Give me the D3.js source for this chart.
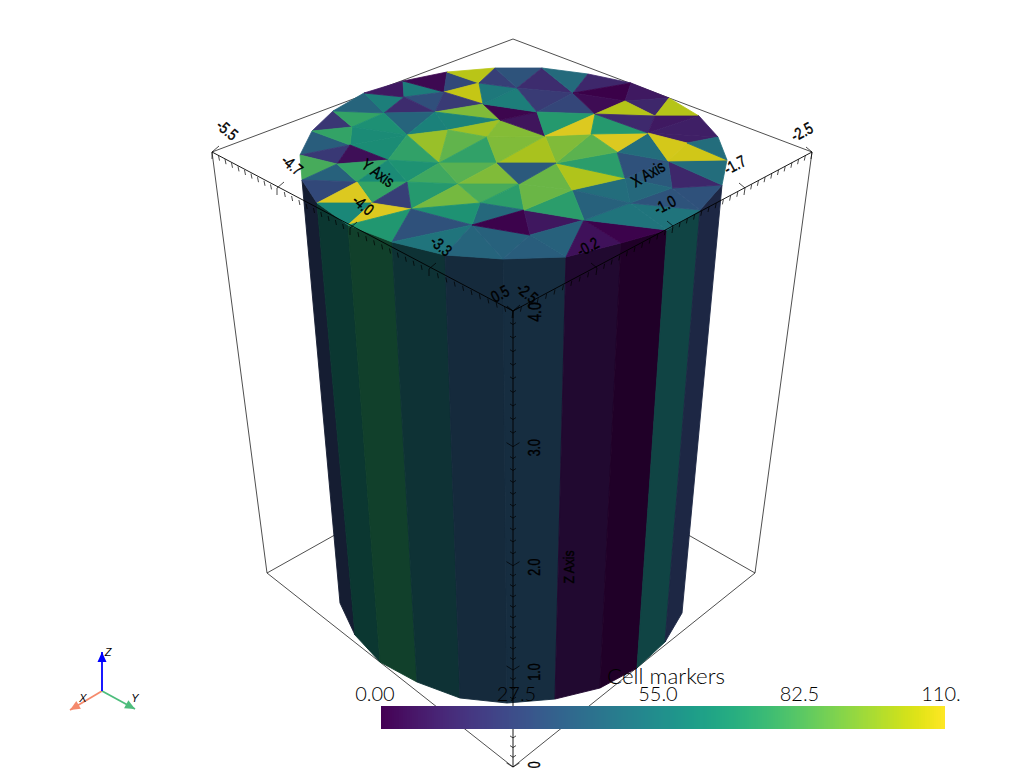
<!DOCTYPE html>
<html><head><meta charset="utf-8">
<script src="https://cdn.jsdelivr.net/npm/d3@7"></script>
<style>html,body{margin:0;padding:0;background:#fff;overflow:hidden}svg{display:block}</style>
</head><body><svg id="c" width="1024" height="768"></svg>
<script>
// ---------- data ----------
const capVertexNames = ["R0","R1","R2","R3","R4","R5","R6","R7","R8","R9","R10","R11","R12","R13","R14","R15","R16","R17","R18","R19","R20","R21","R22","R23","R24",
 "A","B","C","D","E","F","G","H","I","J","K","L","M","N","O","P","Q","S","T","U","V","W","X","Y","Z","a","b","c","d","e","f","g","h","i","j","k","l","m","n","o","p","q","t","w"];
const capVertexU = [1,13,34,65,104,148,196,243,289,332,370,400,419,428,423,401,368,322,267,204,146,93,49,18,3,
 105,85,145,136,180,184,218,201,238,246,274,296,326,356,349,292,318,257,369,53,108,149,188,51,89,140,198,58,108,159,220,273,326,373,331,73,112,181,225,285,173,231,38,388];
const capVertexV = [87,63,43,25,13,4,0,0,6,15,30,48,69,92,117,142,162,175,189,191,187,174,157,135,112,
 29,45,24,44,15,36,20,52,44,68,25,46,33,48,65,66,84,95,93,59,67,62,69,77,92,95,95,114,114,116,116,122,110,120,135,135,141,135,142,152,157,167,96,75];
const capTriangles = ["R1 R2 U","R2 B U","R2 R3 B","R3 A B","R3 R4 A","R4 C A","R4 R5 C","R5 E C","R5 R6 E","A C D","A D B","C E F","C F D","D F H","B D V","U B V","U V Y","Y V Z","D H W","V D W","W H X","V W a","W X a","X b a","V a Z",
 "R0 R1 Y","R1 U Y","R0 Y t","Y Z t","R0 t R24","R24 t c","t Z c","Z d c","Z a d","a e d","a b e","b f e","c d k","d e l","e m l","e f m","f n m","m n p","l m p","d l k","R24 c R23","R23 c k","R23 k R22","R22 k l","R22 l R21","R21 l p","R21 p R20","R20 p R19","p q R19","q R18 R19","n q p","n o q","q o R18","o R17 R18","o R16 R17","o j R16","j R15 R16","j i R15","i R14 R15","T R14 i","T R13 R14","h T i","h i j","g h j","g j o","n g o","f g n","f S g","S h g","S Q h","Q T h","Q O T","P O Q","P Q S","J P S","J S b","X J b","X H J","H I J","F H I","F G I","E G F","E R6 G","R6 R7 G","R7 K G","G K I","K L I","I L J","L P J","L O P","R7 R8 K","R8 R9 K","R9 M K","K M L","R9 R10 M","M R10 N","R10 R11 N","M N L","L N O","N R11 O","O R11 R12","O R12 w","O w T","w R13 T","R12 R13 w","b S f"];
const capValues = [20,75,42,55,9,54,3,28,103,31,16,105,22,92,42,65,62,63,58,57,98,97,86,74,74,
 38,75,21,5,80,40,75,62,66,78,84,92,75,70,90,80,72,44,66,24,28,110,60,110,68,32,50,42,40,38,1,8,40,6,1,50,50,33,32,14,46,36,44,46,40,72,88,88,101,72,32,46,110,85,92,100,92,93,7,2,55,52,24,33,16,22,27,70,110,70,45,14,0,4,9,14,102,102,15,9,11,11,108,107,46,36];
const sideRimTop = ["R24","R23","R22","R21","R20","R19","R18","R17","R16","R15","R14"];
const sideRimBottomU = [41,56,81,118,161,208,256,301,338,366,383];
const sideRimBottomV = [535,567,594,614,630,635,631,620,600,574,545];
const sideValues = [27,60,72,50,35,35,6,0,53,27];
const xTickValues = [0.5,-0.25,-1,-1.75,-2.5];
const xTickLabels = ["0.5","-0.2","-1.0","-1.7","-2.5"];
const yTickValues = [-5.5,-4.75,-4,-3.25,-2.5];
const yTickLabels = ["-5.5","-4.7","-4.0","-3.3","-2.5"];
const zTickValues = [0,1,2,3,4];
const zTickLabels = ["0.0","1.0","2.0","3.0","4.0"];
const colorbarTicks = [0,27.5,55,82.5,110];
const colorbarLabels = ["0.00","27.5","55.0","82.5","110."];
const colorbarTitle = "Cell markers";
const axisNames = ["X Axis","Y Axis","Z Axis"];

// ---------- scales and layout ----------
const svg = d3.select("#c");
const px = d3.scaleLinear().domain([0,428]).range([299,727]);
const py = d3.scaleLinear().domain([0,192]).range([68,260]);
const V = new Map(capVertexNames.map((n,i)=>[n,[px(capVertexU[i]),py(capVertexV[i])]]));
const viridis = d3.scaleSequential(d3.interpolateViridis).domain([0,110]);
const shaded = (v,f)=>{const c=d3.rgb(viridis(v));return d3.rgb(c.r*f,c.g*f,c.b*f).formatRgb();};
const capShade = 0.87;
const sideShade = d3.scaleLinear().domain([300,400,500,730]).range([0.36,0.35,0.44,0.5]);
const line = d3.line();
const corner = {L:[212,152],B:[513,39],R:[812,152],F:[513,311],Lb:[267,573],Bb:[513,435],Rb:[755,573],Fb:[513,767]};

// axes as piecewise scales along the box edges
const xAxisX = d3.scaleLinear().domain(xTickValues).range([513,597,673,745,812]);
const xAxisY = d3.scaleLinear().domain(xTickValues).range([311,268,226,188,152]);
const yAxisX = d3.scaleLinear().domain(yTickValues).range([212,277,350,429,513]);
const yAxisY = d3.scaleLinear().domain(yTickValues).range([152,188,228,269,311]);
const zAxisY = d3.scaleLinear().domain(zTickValues).range([767,670,565.7,446.7,311]);
const minor = vals => d3.merge(vals.slice(0,-1).map((v,i)=>d3.range(0,10).map(k=>v+(vals[i+1]-v)*k/10))).concat(vals[vals.length-1]);

// back edges of the box
const back = svg.append("g").attr("fill","none").attr("stroke","#222").attr("stroke-width",0.8);
back.selectAll("path").data([["L","B"],["B","R"],["L","Lb"],["R","Rb"],["Lb","Bb"],["Rb","Bb"],["Lb","Fb"],["Rb","Fb"]])
  .join("path").attr("d",d=>line([corner[d[0]],corner[d[1]]]));

// cylinder sides
const bottoms = sideRimBottomU.map((u,i)=>[px(u),py(sideRimBottomV[i])]);
const strips = sideValues.map((v,i)=>({v,pts:[V.get(sideRimTop[i]),V.get(sideRimTop[i+1]),bottoms[i+1],bottoms[i]]}));
const stripColor = d=>shaded(d.v,sideShade(d3.mean(d.pts,p=>p[0])));
svg.append("g").selectAll("path").data(strips).join("path")
  .attr("d",d=>line(d.pts)+"Z")
  .attr("fill",stripColor).attr("stroke",stripColor).attr("stroke-width",0.9);

// cap mesh
svg.append("g").selectAll("path").data(capTriangles.map((t,i)=>({pts:t.split(" ").map(n=>V.get(n)),v:capValues[i]}))).join("path")
  .attr("d",d=>line(d.pts)+"Z")
  .attr("fill",d=>shaded(d.v,capShade)).attr("stroke",d=>shaded(d.v,capShade)).attr("stroke-width",0.8).attr("stroke-linejoin","round");

// front axes
const front = svg.append("g").attr("stroke","#000").attr("stroke-width",0.9).attr("fill","none");
const seg=(g,a,b,w)=>g.append("path").attr("d",line([a,b])).attr("stroke-width",w||0.9);
seg(front,corner.L,corner.F);seg(front,corner.F,corner.R);seg(front,corner.F,corner.Fb);
const ticks = (vals,pos,minorLegs,majorLegs)=>{
  minor(vals).forEach(v=>{
    const p=pos(v), isMajor=vals.some(m=>Math.abs(m-v)<1e-6);
    (isMajor?majorLegs:minorLegs).forEach(l=>seg(front,p,[p[0]+l[0],p[1]+l[1]],0.7));
  });
};
ticks(yTickValues,v=>[yAxisX(v),yAxisY(v)],[[1,5]],[[7,-6],[0,7]]);
ticks(xTickValues,v=>[xAxisX(v),xAxisY(v)],[[-1,5]],[[-6,-5],[-1,7]]);
ticks(zTickValues,v=>[513,zAxisY(v)],[[-3,-2],[3,-2]],[[-6.5,-4],[6.5,-4]]);

// axis text
const lab = (s,x,y,r,size)=>svg.append("text").text(s).attr("text-anchor","middle").attr("dominant-baseline","central")
  .attr("transform",`translate(${x},${y}) rotate(${r}) scale(0.78,1)`).attr("font-family","'Liberation Sans',sans-serif").attr("font-size",size).attr("fill","#000").attr("stroke","#000").attr("stroke-width",0.4);
const yOff=[[15,-22],[15,-23],[13,-23],[12,-23],[14,-18]];
yTickValues.forEach((v,i)=>lab(yTickLabels[i],yAxisX(v)+yOff[i][0],yAxisY(v)+yOff[i][1],40,16.5));
const xOff=[[-13,-17],[-9,-21],[-8,-21],[-10,-23],[-10,-20]];
xTickValues.forEach((v,i)=>lab(xTickLabels[i],xAxisX(v)+xOff[i][0],xAxisY(v)+xOff[i][1],-28,16.5));
const zOff=[3,2,1.5,1,1];
zTickValues.forEach((v,i)=>lab(zTickLabels[i],534.5,zAxisY(v)+zOff[i],-90,i==4?18:16));
lab(axisNames[0],648,174,-30,16.5);
lab(axisNames[1],378,173,36,16.5);
lab(axisNames[2],568,567,-90,15.5);

// scalar bar
const barX=d3.scaleBand().domain(d3.range(256)).range([381,945]);
const barPos=d3.scaleLinear().domain([0,110]).range([375,941]);
svg.append("g").attr("shape-rendering","crispEdges").selectAll("rect").data(d3.range(256)).join("rect")
  .attr("x",d=>barX(d)).attr("y",706).attr("width",d=>d==255?barX.bandwidth():barX.bandwidth()+1).attr("height",23)
  .attr("fill",d=>d3.interpolateViridis(d/255));
const barFont="Lato,'Open Sans',sans-serif";
svg.append("g").selectAll("text").data(colorbarTicks).join("text")
  .attr("x",d=>barPos(d)).attr("y",701).attr("text-anchor","middle").text((d,i)=>colorbarLabels[i])
  .attr("font-family",barFont).attr("font-weight",300).attr("font-size",20).attr("fill","#000");
svg.append("text").attr("x",607).attr("y",684).attr("textLength",118).attr("lengthAdjust","spacingAndGlyphs").text(colorbarTitle)
  .attr("font-family",barFont).attr("font-weight",300).attr("font-size",21).attr("fill","#000");

// orientation marker
const origin=[102,691];
const markerTips=[{n:"X",tip:[70,710],c:"#f58a6c",lab:[83,698]},{n:"Y",tip:[135,709],c:"#4dbd7c",lab:[135,698]},{n:"Z",tip:[102,652],c:"#0000ff",lab:[108,652]}];
const om=svg.append("g");
markerTips.forEach(m=>{
  const dx=m.tip[0]-origin[0],dy=m.tip[1]-origin[1],len=Math.hypot(dx,dy),ux=dx/len,uy=dy/len;
  om.append("path").attr("d",line([origin,m.tip])).attr("stroke",m.c).attr("stroke-width",1.8);
  const bx=m.tip[0]-ux*10,by=m.tip[1]-uy*10;
  om.append("path").attr("d",line([m.tip,[bx-uy*4.5,by+ux*4.5],[bx+uy*4.5,by-ux*4.5]])+"Z").attr("fill",m.c);
  om.append("text").text(m.n).attr("x",m.lab[0]).attr("y",m.lab[1]).attr("text-anchor","middle").attr("dominant-baseline","central")
    .attr("font-family","'Liberation Sans',sans-serif").attr("font-style","italic").attr("font-size",11).attr("fill","#000");
});
</script></body></html>
